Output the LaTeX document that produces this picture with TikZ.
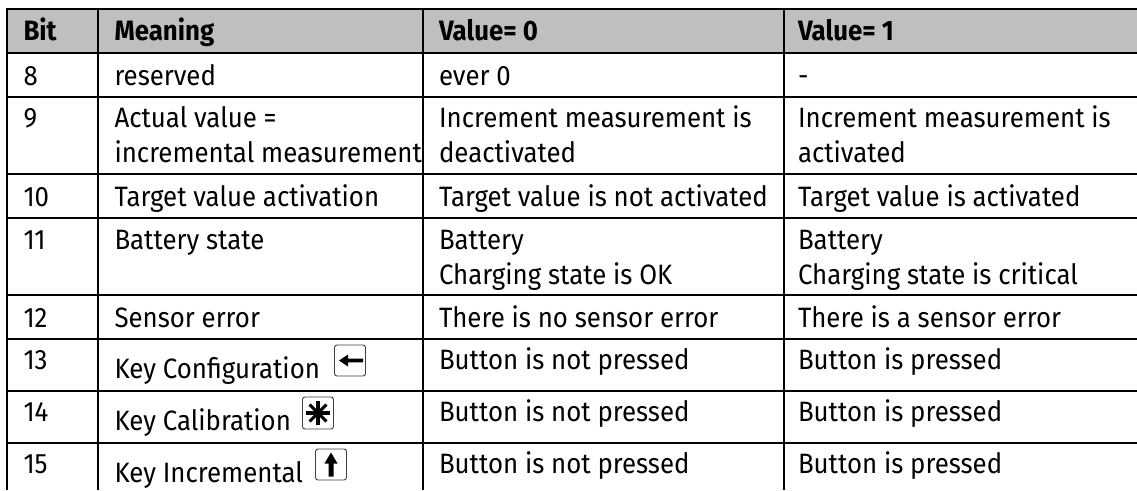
\documentclass[tikz,border=0pt]{standalone}
\usepackage{fontspec}
\setmainfont[FakeStretch=0.922]{Fira Sans}
\tikzset{
 grid/.style={line width=2pt,black},
 cell/.style={anchor=base west,inner sep=0pt,outer sep=0pt,font=\fontsize{28}{28}\selectfont,text=black},
 head/.style={cell,font=\fontsize{28}{28}\selectfont\bfseries},
 keybox/.style={draw=black!75,line width=0.9pt,rounded corners=2.5pt,inner sep=0pt},
 glyph/.style={line width=3.1pt,black}
}
\begin{document}
\begin{tikzpicture}[x=1pt,y=-1pt]
\useasboundingbox (0,0) rectangle (1137,490);
\fill[white] (0,0) rectangle (1137,490);
\fill[black!25] (6.5,8.5) rectangle (1137,53);
% horizontal rules
\foreach \y in {8.5,53,97,173.5,218,295,339,391,442.5}
  \draw[grid] (5.5,\y) -- (1137,\y);
% vertical rules
\foreach \x in {6.5,98,423,783.5}
  \draw[grid] (\x,8) -- (\x,490);
% header
\node[head] (h1) at (23.5,40) {Bit};
\node[head] (h2) at (114.5,40) {Meaning};
\node[head] (h3) at (439,40) {Value= 0};
\node[head] (h4) at (798,40) {Value= 1};
% bit 8
\node[cell] (b8) at (23.5,85) {8};
\node[cell] (m8) at (114.5,85) {reserved};
\node[cell] (z8) at (439,85) {ever 0};
\node[cell] (o8) at (798,85) {-};
% bit 9
\node[cell] (b9) at (23.5,127) {9};
\node[cell] (m9a) at (114.5,127) {Actual value =};
\node[cell] (m9b) at (114.5,162) {incremental measurement};
\node[cell] (z9a) at (439,127) {Increment measurement is};
\node[cell] (z9b) at (439,162) {deactivated};
\node[cell] (o9a) at (798,127) {Increment measurement is};
\node[cell] (o9b) at (798,162) {activated};
% bit 10
\node[cell] (b10) at (23.5,206) {10};
\node[cell] (m10) at (114.5,206) {Target value activation};
\node[cell] (z10) at (439,206) {Target value is not activated};
\node[cell] (o10) at (798,206) {Target value is activated};
% bit 11
\node[cell] (b11) at (23.5,249) {11};
\node[cell] (m11) at (114.5,249) {Battery state};
\node[cell] (z11a) at (439,249) {Battery};
\node[cell] (z11b) at (439,284) {Charging state is OK};
\node[cell] (o11a) at (798,249) {Battery};
\node[cell] (o11b) at (798,284) {Charging state is critical};
% bit 12
\node[cell] (b12) at (23.5,327) {12};
\node[cell] (m12) at (114.5,327) {Sensor error};
\node[cell] (z12) at (439,327) {There is no sensor error};
\node[cell] (o12) at (798,327) {There is a sensor error};
% bit 13
\node[cell] (b13) at (23.5,369) {13};
\node[cell] (m13) at (114.5,378) {Key Configuration};
\node[cell] (z13) at (439,369) {Button is not pressed};
\node[cell] (o13) at (798,369) {Button is pressed};
% bit 14
\node[cell] (b14) at (23.5,421) {14};
\node[cell] (m14) at (114.5,430) {Key Calibration};
\node[cell] (z14) at (439,421) {Button is not pressed};
\node[cell] (o14) at (798,421) {Button is pressed};
% bit 15
\node[cell] (b15) at (23.5,473) {15};
\node[cell] (m15) at (114.5,482) {Key Incremental};
\node[cell] (z15) at (439,473) {Button is not pressed};
\node[cell] (o15) at (798,473) {Button is pressed};
% key icons
\node[keybox,minimum width=31pt,minimum height=31pt] (k1) at (350,360.5) {};
\node[keybox,minimum width=31pt,minimum height=32pt] (k2) at (318,413) {};
\node[keybox,minimum width=31pt,minimum height=31pt] (k3) at (331,464.5) {};
% left arrow
\fill (k1.center) ++(-11,0) -- ++(9,-6) -- ++(0,4.2) -- ++(15,0) -- ++(0,3.6) -- ++(-15,0) -- ++(0,4.2) -- cycle;
% asterisk
\foreach \a in {0,45,90,135}
  \draw[glyph] ([shift={(\a:12)}]k2.center) -- ([shift={(\a+180:12)}]k2.center);
% up arrow
\fill (k3.center) ++(0,-12) -- ++(6.5,11) -- ++(-4,0) -- ++(0,13) -- ++(-5,0) -- ++(0,-13) -- ++(-4,0) -- cycle;
\end{tikzpicture}
\end{document}
